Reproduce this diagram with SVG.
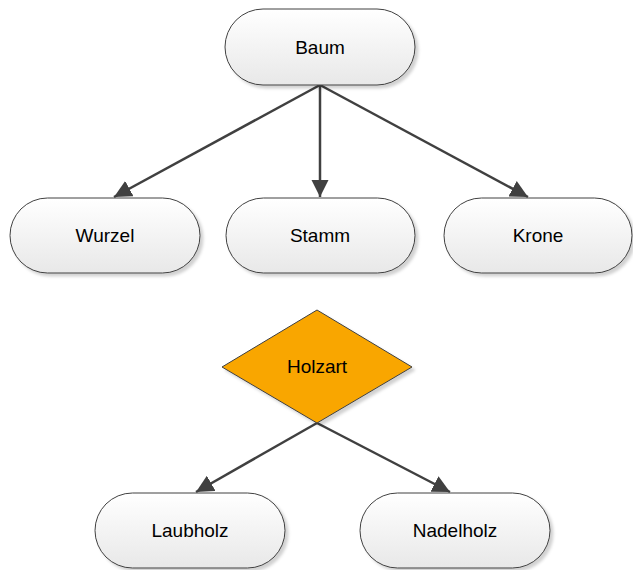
<svg xmlns="http://www.w3.org/2000/svg" width="633" height="570" viewBox="0 0 633 570">
<style>
.term{fill:url(#g);stroke:#404040;stroke-width:1;filter:url(#sh)}
.dec{fill:#F9A602;stroke:#404040;stroke-width:1;filter:url(#sh)}
.lbl{font-family:"Liberation Sans",Arial,sans-serif;font-size:19px;fill:#000;text-anchor:middle}
.conn{stroke:#404040;stroke-width:2.5;fill:none;marker-end:url(#ah)}
</style>
<defs>
<linearGradient id="g" x1="0" y1="0" x2="0" y2="1">
<stop offset="0" stop-color="#ffffff"/>
<stop offset="1" stop-color="#e8e8e8"/>
</linearGradient>
<filter id="sh" x="-10%" y="-10%" width="130%" height="140%">
<feDropShadow dx="3" dy="3" stdDeviation="1.5" flood-color="#000" flood-opacity="0.18"/>
</filter>
<marker id="ah" viewBox="0 0 10 10" refX="10" refY="5" markerWidth="7" markerHeight="7" markerUnits="strokeWidth" orient="auto">
<path d="M0,0 L10,5 L0,10 Z" fill="#404040"/>
</marker>
</defs>
<g id="connectors">
<line class="conn" x1="320" y1="85" x2="114" y2="197"/>
<line class="conn" x1="320" y1="85" x2="320" y2="197"/>
<line class="conn" x1="320" y1="85" x2="528" y2="197"/>
<line class="conn" x1="317" y1="423" x2="196" y2="492"/>
<line class="conn" x1="317" y1="423" x2="450" y2="492"/>
</g>
<g id="baum">
<rect class="term" x="225" y="9" width="190" height="76" rx="38"/>
<text class="lbl" x="320" y="54">Baum</text>
</g>
<g id="wurzel">
<rect class="term" x="10" y="198" width="190" height="75" rx="37.5"/>
<text class="lbl" x="105" y="242">Wurzel</text>
</g>
<g id="stamm">
<rect class="term" x="226" y="198" width="189" height="75" rx="37.5"/>
<text class="lbl" x="320" y="242">Stamm</text>
</g>
<g id="krone">
<rect class="term" x="444" y="198" width="188" height="75" rx="37.5"/>
<text class="lbl" x="538" y="242">Krone</text>
</g>
<g id="holzart">
<polygon class="dec" points="317,310 412,367 317,423 222,367"/>
<text class="lbl" x="317" y="373">Holzart</text>
</g>
<g id="laubholz">
<rect class="term" x="95" y="493" width="190" height="75" rx="37.5"/>
<text class="lbl" x="190" y="537">Laubholz</text>
</g>
<g id="nadelholz">
<rect class="term" x="360" y="493" width="190" height="75" rx="37.5"/>
<text class="lbl" x="455" y="537">Nadelholz</text>
</g>
</svg>
